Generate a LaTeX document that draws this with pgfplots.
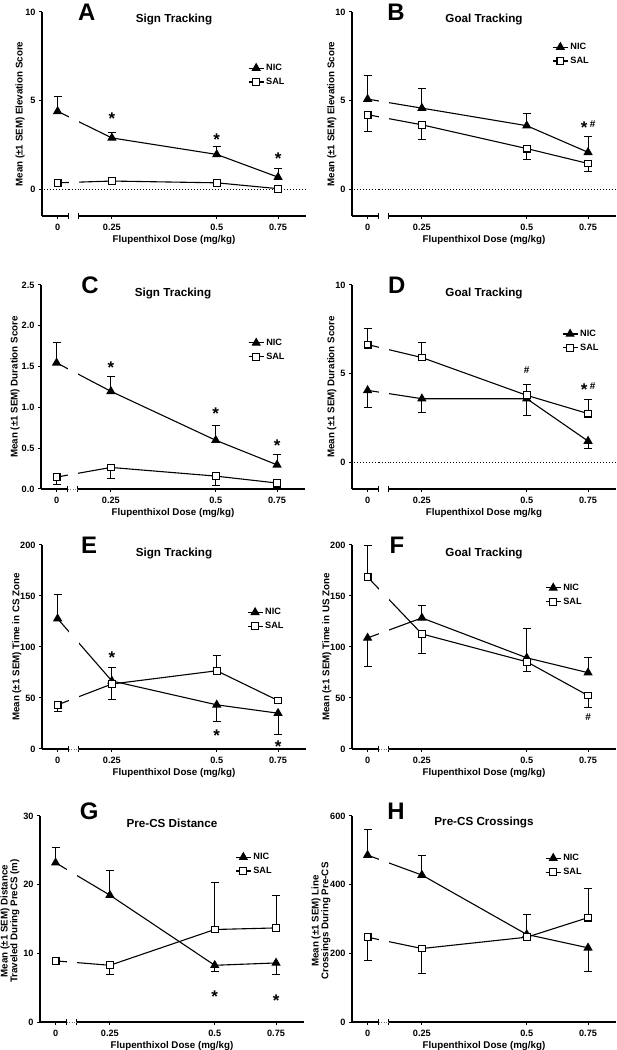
\documentclass[border=0pt]{standalone}
\usepackage{pgfplots}
\pgfplotsset{compat=1.18}
\usepackage{fontspec}
\setmainfont{Liberation Sans}
\newcommand{\fs}[1]{\fontsize{#1}{#1}\selectfont\bfseries}
\pgfplotsset{
  myPanel/.style={
    scale only axis, width=264bp, height=204bp,
    anchor=south west, clip=false,
    xmin=0.1575, xmax=0.902,
    axis x line*=bottom, axis y line*=left,
    axis line style={line width=1.1bp},
    xtick={0.1746,0.25,0.5,0.75}, xticklabels={0,0.25,0.5,0.75},
    xminorticks=false, yminorticks=false,
    tick align=outside, major tick length=3bp,
    major tick style={black, line width=1bp},
    tick label style={font=\fs{9.2}},
    xticklabel style={yshift=-1.5bp},
    /pgf/number format/assume math mode=true,
    xlabel style={font=\fs{9.8}, at={(axis description cs:0.5,0)}, anchor=center, yshift=-24bp},
    ylabel style={font=\fs{9.8}, anchor=center, align=center},
    legend cell align=left,
    legend style={draw=none, fill=none, font=\fs{9.2}, inner sep=0pt, row sep=2bp, anchor=north west},
    legend image code/.code={\draw[mark repeat=2,mark phase=2] plot coordinates {(0bp,0bp) (7.5bp,0bp) (15bp,0bp)};},
  },
  myNic/.style={black, line width=1.1bp, mark=triangle*, mark size=4.3bp, mark options={solid, fill=black}},
  mySal/.style={black, line width=1.1bp, mark=square*, mark size=3.4bp, mark options={solid, fill=white}},
  myEbp/.style={forget plot, draw=none, error bars/.cd, y dir=plus, y explicit, error bar style={draw=black, solid, line width=1bp}, error mark=|, error mark options={draw=black, solid, line width=1bp, mark size=4bp}},
  myEbm/.style={forget plot, draw=none, error bars/.cd, y dir=minus, y explicit, error bar style={draw=black, solid, line width=1bp}, error mark=|, error mark options={draw=black, solid, line width=1bp, mark size=4bp}},
  myZero/.style={forget plot, black, line width=0.9bp, dash pattern=on 1bp off 2bp},
}
\tikzset{
  myStar/.style={font=\fs{17}, anchor=base, yshift=-9.8bp, inner sep=0pt},
  myHash/.style={font=\fs{10}, anchor=base, yshift=-3.5bp, inner sep=0pt},
  myLetter/.style={font=\fs{24}, inner sep=0pt},
  myTtl/.style={font=\fs{11.7}, inner sep=0pt},
}
% break of the x axis: #1 = ymin, #2 = ymax
\newcommand{\brk}[2]{%
  \fill[white] ([yshift=-2.5bp]axis cs:0.188,#1) rectangle (axis cs:0.2005,#2);
  \draw[line width=1bp] ([yshift=-3bp]axis cs:0.188,#1) -- ([yshift=3bp]axis cs:0.188,#1);
  \draw[line width=1bp] ([yshift=-3bp]axis cs:0.2005,#1) -- ([yshift=3bp]axis cs:0.2005,#1);
}
\newcommand{\gapdots}[1]{%
  \draw[gray, line width=0.8bp, dash pattern=on 0.8bp off 1.6bp] (axis cs:0.188,#1) -- (axis cs:0.2005,#1);
}
\begin{document}
\begin{tikzpicture}
\useasboundingbox (0,0) rectangle (617bp,1050bp);

% ---------------- A ----------------
\begin{semilogxaxis}[myPanel, at={(42bp,834bp)}, ymin=-1.5, ymax=10, ytick={0,5,10},
  xlabel={Flupenthixol Dose (mg/kg)}, ylabel={Mean (±1 SEM) Elevation Score},
  ylabel style={at={(axis description cs:-0.083,0.5)}},
  legend style={at={(axis description cs:0.78,0.755)}}]
\addplot[myZero] coordinates {(0.16,0) (0.902,0)};
\addplot[myEbp] coordinates {(0.1746,4.40) +- (0,0.84) (0.25,2.90) +- (0,0.28) (0.5,1.97) +- (0,0.46) (0.75,0.69) +- (0,0.49)};
\addplot[myNic] coordinates {(0.1746,4.40) (0.25,2.90) (0.5,1.97) (0.75,0.69)};
\addplot[mySal] coordinates {(0.1746,0.37) (0.25,0.47) (0.5,0.37) (0.75,0.04)};
\legend{NIC,SAL}
\brk{-1.5}{10}
\addplot[myZero] coordinates {(0.188,0) (0.2005,0)};
\node[myLetter] at (axis description cs:0.17,1.0) {A};
\node[myTtl] at (axis description cs:0.5,0.965) {Sign Tracking};
\node[myStar] at (axis cs:0.25,4.2) {*};
\node[myStar] at (axis cs:0.5,3.05) {*};
\node[myStar] at (axis cs:0.75,1.97) {*};
\end{semilogxaxis}

% ---------------- B ----------------
\begin{semilogxaxis}[myPanel, at={(352bp,834bp)}, ymin=-1.5, ymax=10, ytick={0,5,10},
  xlabel={Flupenthixol Dose (mg/kg)}, ylabel={Mean (±1 SEM) Elevation Score},
  ylabel style={at={(axis description cs:-0.076,0.5)}},
  legend style={at={(axis description cs:0.758,0.858)}}]
\addplot[myZero] coordinates {(0.16,0) (0.902,0)};
\addplot[myEbp] coordinates {(0.1746,5.09) +- (0,1.31) (0.25,4.58) +- (0,1.10) (0.5,3.59) +- (0,0.71) (0.75,2.09) +- (0,0.90)};
\addplot[myEbm] coordinates {(0.1746,4.21) +- (0,0.94) (0.25,3.64) +- (0,0.80) (0.5,2.30) +- (0,0.62) (0.75,1.46) +- (0,0.47)};
\addplot[myNic] coordinates {(0.1746,5.09) (0.25,4.58) (0.5,3.59) (0.75,2.09)};
\addplot[mySal] coordinates {(0.1746,4.21) (0.25,3.64) (0.5,2.30) (0.75,1.46)};
\legend{NIC,SAL}
\brk{-1.5}{10}
\addplot[myZero] coordinates {(0.188,0) (0.2005,0)};
\node[myLetter] at (axis description cs:0.167,1.0) {B};
\node[myTtl] at (axis description cs:0.5,0.965) {Goal Tracking};
\node[myStar, xshift=-4bp] at (axis cs:0.75,3.68) {*};
\node[myHash, xshift=4.5bp] at (axis cs:0.75,3.68) {\#};
\end{semilogxaxis}

% ---------------- C ----------------
\begin{semilogxaxis}[myPanel, at={(41bp,561bp)}, ymin=0, ymax=2.5, ytick={0,0.5,1,1.5,2,2.5},
  yticklabel style={/pgf/number format/.cd, fixed, fixed zerofill, precision=1},
  xlabel={Flupenthixol Dose (mg/kg)}, ylabel={Mean (±1 SEM) Duration Score},
  ylabel style={at={(axis description cs:-0.098,0.5)}},
  legend style={at={(axis description cs:0.784,0.746)}}]
\addplot[myEbp] coordinates {(0.1746,1.546) +- (0,0.244) (0.25,1.197) +- (0,0.187) (0.5,0.597) +- (0,0.183) (0.75,0.296) +- (0,0.13)};
\addplot[myEbm] coordinates {(0.1746,0.146) +- (0,0.093) (0.25,0.264) +- (0,0.13) (0.5,0.158) +- (0,0.118) (0.75,0.073) +- (0,0.053)};
\addplot[myNic] coordinates {(0.1746,1.546) (0.25,1.197) (0.5,0.597) (0.75,0.296)};
\addplot[mySal] coordinates {(0.1746,0.146) (0.25,0.264) (0.5,0.158) (0.75,0.073)};
\legend{NIC,SAL}
\brk{0}{2.5}
\gapdots{0}
\node[myLetter] at (axis description cs:0.186,1.0) {C};
\node[myTtl] at (axis description cs:0.5,0.96) {Sign Tracking};
\node[myStar] at (axis cs:0.25,1.53) {*};
\node[myStar] at (axis cs:0.5,0.966) {*};
\node[myStar] at (axis cs:0.75,0.58) {*};
\end{semilogxaxis}

% ---------------- D ----------------
\begin{semilogxaxis}[myPanel, at={(352bp,561bp)}, ymin=-1.5, ymax=10, ytick={0,5,10},
  xlabel={Flupenthixol Dose mg/kg}, ylabel={Mean (±1 SEM) Duration Score},
  ylabel style={at={(axis description cs:-0.076,0.5)}},
  legend style={at={(axis description cs:0.795,0.79)}}]
\addplot[myZero] coordinates {(0.16,0) (0.902,0)};
\addplot[myEbm] coordinates {(0.1746,4.06) +- (0,0.99) (0.25,3.59) +- (0,0.79) (0.5,3.59) +- (0,0.97) (0.75,1.20) +- (0,0.41)};
\addplot[myEbp] coordinates {(0.1746,6.64) +- (0,0.91) (0.25,5.91) +- (0,0.82) (0.5,3.78) +- (0,0.63) (0.75,2.75) +- (0,0.82)};
\addplot[myNic] coordinates {(0.1746,4.06) (0.25,3.59) (0.5,3.59) (0.75,1.20)};
\addplot[mySal] coordinates {(0.1746,6.64) (0.25,5.91) (0.5,3.78) (0.75,2.75)};
\legend{NIC,SAL}
\brk{-1.5}{10}
\addplot[myZero] coordinates {(0.188,0) (0.2005,0)};
\node[myLetter] at (axis description cs:0.17,1.0) {D};
\node[myTtl] at (axis description cs:0.5,0.96) {Goal Tracking};
\node[myHash] at (axis cs:0.5,5.23) {\#};
\node[myStar, xshift=-4bp] at (axis cs:0.75,4.30) {*};
\node[myHash, xshift=4.5bp] at (axis cs:0.75,4.30) {\#};
\end{semilogxaxis}

% ---------------- E ----------------
\begin{semilogxaxis}[myPanel, at={(42bp,301bp)}, ymin=0, ymax=200, ytick={0,50,100,150,200},
  xlabel={Flupenthixol Dose (mg/kg)}, ylabel={Mean (±1 SEM) Time in CS Zone},
  ylabel style={at={(axis description cs:-0.095,0.5)}},
  legend style={at={(axis description cs:0.776,0.70)}}]
\addplot[myEbp] coordinates {(0.1746,127.8) +- (0,23.4) (0.25,66.7) +- (0,13.0)};
\addplot[myEbm] coordinates {(0.5,43.3) +- (0,16.3) (0.75,35.1) +- (0,21.1)};
\addplot[myEbm] coordinates {(0.1746,43.3) +- (0,6.6) (0.25,63.7) +- (0,14.9)};
\addplot[myEbp] coordinates {(0.5,76.7) +- (0,14.7)};
\addplot[myNic] coordinates {(0.1746,127.8) (0.25,66.7) (0.5,43.3) (0.75,35.1)};
\addplot[mySal] coordinates {(0.1746,43.3) (0.25,63.7) (0.5,76.7) (0.75,47.5)};
\legend{NIC,SAL}
\brk{0}{200}
\gapdots{0}
\node[myLetter] at (axis description cs:0.178,1.0) {E};
\node[myTtl] at (axis description cs:0.5,0.96) {Sign Tracking};
\node[myStar] at (axis cs:0.25,93.7) {*};
\node[myStar] at (axis cs:0.5,17.2) {*};
\node[myStar] at (axis cs:0.75,5.8) {*};
\end{semilogxaxis}

% ---------------- F ----------------
\begin{semilogxaxis}[myPanel, at={(352bp,301bp)}, ymin=0, ymax=200, ytick={0,50,100,150,200},
  xlabel={Flupenthixol Dose (mg/kg)}, ylabel={Mean (±1 SEM) Time in US Zone},
  ylabel style={at={(axis description cs:-0.095,0.5)}},
  legend style={at={(axis description cs:0.731,0.82)}}]
\addplot[myEbm] coordinates {(0.1746,108.9) +- (0,27.6)};
\addplot[myEbp] coordinates {(0.25,128.5) +- (0,11.7) (0.5,89.4) +- (0,28.6) (0.75,74.8) +- (0,15.3)};
\addplot[myEbp] coordinates {(0.1746,168.5) +- (0,30.8)};
\addplot[myEbm] coordinates {(0.25,112.8) +- (0,19.5) (0.5,85.5) +- (0,9.7) (0.75,52.4) +- (0,11.4)};
\addplot[myNic] coordinates {(0.1746,108.9) (0.25,128.5) (0.5,89.4) (0.75,74.8)};
\addplot[mySal] coordinates {(0.1746,168.5) (0.25,112.8) (0.5,85.5) (0.75,52.4)};
\legend{NIC,SAL}
\brk{0}{200}
\gapdots{0}
\node[myLetter] at (axis description cs:0.17,1.0) {F};
\node[myTtl] at (axis description cs:0.5,0.96) {Goal Tracking};
\node[myHash] at (axis cs:0.75,30.9) {\#};
\end{semilogxaxis}

% ---------------- G ----------------
\begin{semilogxaxis}[myPanel, at={(40bp,28bp)}, height=206bp, ymin=0, ymax=30, ytick={0,10,20,30},
  xlabel={Flupenthixol Dose (mg/kg)}, ylabel={Mean (±1 SEM) Distance\\Traveled During PreCS (m)},
  ylabel style={at={(axis description cs:-0.114,0.49)}},
  legend style={at={(axis description cs:0.739,0.83)}}]
\addplot[myEbp] coordinates {(0.1746,23.19) +- (0,2.2) (0.25,18.47) +- (0,3.6)};
\addplot[myEbm] coordinates {(0.5,8.26) +- (0,0.97) (0.75,8.6) +- (0,1.7)};
\addplot[myEbm] coordinates {(0.25,8.26) +- (0,1.36)};
\addplot[myEbp] coordinates {(0.5,13.47) +- (0,6.8) (0.75,13.7) +- (0,4.7)};
\addplot[myNic] coordinates {(0.1746,23.19) (0.25,18.47) (0.5,8.26) (0.75,8.6)};
\addplot[mySal] coordinates {(0.1746,8.9) (0.25,8.26) (0.5,13.47) (0.75,13.7)};
\legend{NIC,SAL}
\brk{0}{30}
\gapdots{0}
\node[myLetter] at (axis description cs:0.186,1.024) {G};
\node[myTtl] at (axis description cs:0.5,0.966) {Pre-CS Distance};
\node[myStar] at (axis cs:0.5,4.3) {*};
\node[myStar] at (axis cs:0.75,3.65) {*};
\end{semilogxaxis}

% ---------------- H ----------------
\begin{semilogxaxis}[myPanel, at={(352bp,28bp)}, height=206bp, ymin=0, ymax=600, ytick={0,200,400,600},
  xlabel={Flupenthixol Dose (mg/kg)}, ylabel={Mean (±1 SEM) Line\\Crossings During Pre-CS},
  ylabel style={at={(axis description cs:-0.117,0.49)}},
  legend style={at={(axis description cs:0.731,0.825)}}]
\addplot[myEbp] coordinates {(0.1746,486) +- (0,76) (0.25,428) +- (0,56) (0.5,255) +- (0,59)};
\addplot[myEbm] coordinates {(0.75,216) +- (0,68)};
\addplot[myEbm] coordinates {(0.1746,247) +- (0,67) (0.25,214) +- (0,73)};
\addplot[myEbp] coordinates {(0.75,304) +- (0,85)};
\addplot[myNic] coordinates {(0.1746,486) (0.25,428) (0.5,255) (0.75,216)};
\addplot[mySal] coordinates {(0.1746,247) (0.25,214) (0.5,247) (0.75,304)};
\legend{NIC,SAL}
\brk{0}{600}
\gapdots{0}
\node[myLetter] at (axis description cs:0.167,1.024) {H};
\node[myTtl] at (axis description cs:0.5,0.966) {Pre-CS Crossings};
\end{semilogxaxis}
\end{tikzpicture}
\end{document}
